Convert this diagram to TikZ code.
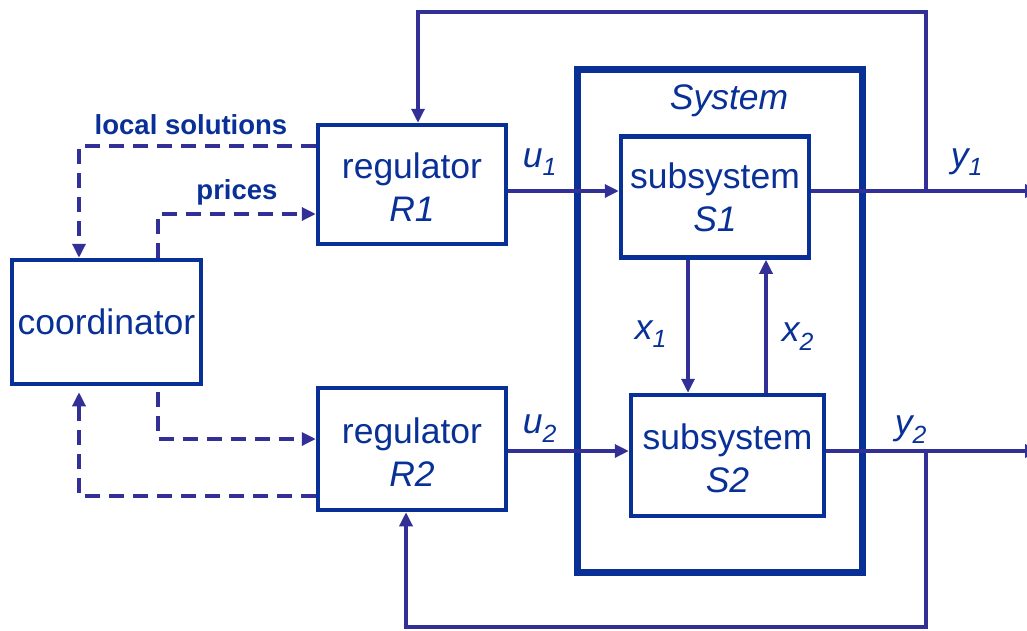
\documentclass[tikz,border=0pt]{standalone}
\usepackage{fontspec}
\setmainfont{Liberation Sans}
\usetikzlibrary{arrows.meta}
\definecolor{boxblue}{RGB}{8,48,150}
\definecolor{lineblue}{RGB}{50,48,150}
\begin{document}
\begin{tikzpicture}[x=1pt,y=-1pt,line join=miter,
 box/.style={draw=boxblue, line width=4.5pt, inner sep=0pt, text=boxblue, align=center, font=\fontsize{35.5}{43}\selectfont},
 sysbox/.style={draw=boxblue, line width=7.5pt, inner sep=0pt},
 conn/.style={draw=lineblue, line width=3.3pt, -{Triangle[length=14pt,width=13pt]}},
 dconn/.style={conn, dash pattern=on 15pt off 9pt},
 lbl/.style={text=boxblue, font=\fontsize{35.5}{43}\selectfont\itshape, inner sep=0pt},
 blbl/.style={text=boxblue, font=\fontsize{27.5}{33}\selectfont\bfseries, inner sep=0pt}
]
\useasboundingbox (0,0) rectangle (1027,630);
% boxes
\node[sysbox, minimum width=285pt, minimum height=503pt] (sys) at (720,321) {};
\node[box, minimum width=189pt, minimum height=124pt] (coord) at (106.5,322) {coordinator};
\node[box, minimum width=188pt, minimum height=119pt] (R1) at (412,184.5) {\rule{0pt}{31.5pt}regulator\\\textit{R1}};
\node[box, minimum width=188pt, minimum height=122pt] (R2) at (412,449) {\rule{0pt}{31pt}regulator\\\textit{R2}};
\node[box, minimum width=188pt, minimum height=121pt] (S1) at (715,197) {subsystem\\\textit{S1}};
\node[box, minimum width=193pt, minimum height=121pt] (S2) at (727.5,455.5) {\rule{0pt}{31.5pt}subsystem\\\textit{S2}};
% labels
\node[lbl] (lsys) at (729,101) {System};
\node[blbl] (lls) at (191,125) {local solutions};
\node[blbl] (lpr) at (237,192) {prices};
\node[lbl] (lu1) at (540,162) {u\textsubscript{1}};
\node[lbl] (lu2) at (540,429) {u\textsubscript{2}};
\node[lbl] (ly1) at (967,162) {y\textsubscript{1}};
\node[lbl] (ly2) at (911,430) {y\textsubscript{2}};
\node[lbl] (lx1) at (651,334) {x\textsubscript{1}};
\node[lbl] (lx2) at (798,337) {x\textsubscript{2}};
% helper coordinates
\coordinate (j1) at (926,191);
\coordinate (j2) at (926,451);
\coordinate (out1) at (1039,191);
\coordinate (out2) at (1039,451);
\coordinate (tr) at (926,12);
\coordinate (tl) at (418,12);
\coordinate (br) at (926,627);
\coordinate (bl) at (406,627);
\coordinate (xa) at (688,0);
\coordinate (xb) at (766,0);
\coordinate (d1) at (79,146);
\coordinate (d2) at (158,214);
\coordinate (d3) at (158,439);
\coordinate (d4) at (79,496);
% solid connectors
\draw[conn] (R1.east |- j1) -- (S1.west |- j1);
\draw[conn] (S1.east |- j1) -- (out1);
\draw[conn] (R2.east |- j2) -- (S2.west |- j2);
\draw[conn] (S2.east |- j2) -- (out2);
\draw[conn] (j1) -- (tr) -- (tl) -- (tl |- R1.north);
\draw[conn] (j2) -- (br) -- (bl) -- (bl |- R2.south);
\draw[conn] (xa |- S1.south) -- (xa |- S2.north);
\draw[conn] (xb |- S2.north) -- (xb |- S1.south);
% dashed connectors
\draw[dconn] (R1.west |- d1) -- (d1) -- (d1 |- coord.north);
\draw[dconn] (d2 |- coord.north) -- (d2) -- (R1.west |- d2);
\draw[dconn, shorten <=6pt] (d3 |- coord.south) -- (d3) -- (R2.west |- d3);
\draw[dconn, shorten >=6pt] (R2.west |- d4) -- (d4) -- (d4 |- coord.south);
\end{tikzpicture}
\end{document}
